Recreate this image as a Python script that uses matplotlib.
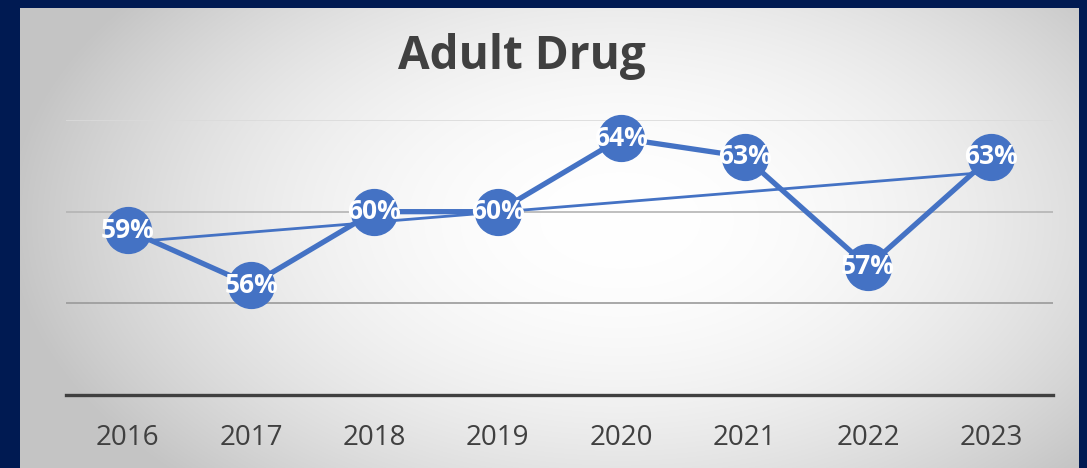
import numpy as np
import matplotlib
matplotlib.use("Agg")
import matplotlib.pyplot as plt

# Adult drug percentages by year
years = ["2016", "2017", "2018", "2019", "2020", "2021", "2022", "2023"]
rates = [59, 56, 60, 60, 64, 63, 57, 63]

W, H = 1087, 468
navy = (0 / 255, 26 / 255, 82 / 255)
blue = "#4472C4"
text_grey = "#404040"

plt.rcParams["font.family"] = ["Open Sans", "DejaVu Sans"]

fig = plt.figure(figsize=(W / 100, H / 100), dpi=100)

# background: navy frame with a radial grey-to-white panel
bg = fig.add_axes([0, 0, 1, 1])
yy, xx = np.mgrid[0:H, 0:W]
d2 = ((xx - 620) / 600.0) ** 2 + ((yy - 220) / 360.0) ** 2
shade = np.clip(1.0 - 0.22 * np.clip(d2, 0, 1.05), 0, 1)
img = np.dstack([shade, shade, shade])
panel = (xx >= 20) & (xx < 1079) & (yy >= 8)
img[~panel] = navy
bg.imshow(img, extent=(0, W, H, 0), aspect="auto", interpolation="bilinear")
bg.set_xlim(0, W)
bg.set_ylim(H, 0)
bg.axis("off")

# chart area
ax = fig.add_axes([66 / W, 73 / H, (1053 - 66) / W, (395 - 120) / H])
ax.patch.set_alpha(0)
x = np.arange(len(years))

for level, col in [(55, "#9a9a9a"), (60, "#b4b4b4"), (65, "#dadada")]:
    ax.axhline(level, color=col, lw=1.2, zorder=1)

ax.plot(x, rates, color=blue, lw=3.8, marker="o", markersize=33,
        markerfacecolor=blue, markeredgecolor=blue, zorder=3, clip_on=False)

# linear trend
k, b = np.polyfit(x, rates, 1)
ax.plot(x, k * x + b, color=blue, lw=2.0, zorder=4)

for xi, v in zip(x, rates):
    ax.text(xi, v, f"{v}%", color="white", fontsize=19, fontweight="bold",
            ha="center", va="center", zorder=5)

ax.set_xlim(-0.5, len(years) - 0.5)
ax.set_ylim(50, 65)
ax.set_xticks(x)
ax.set_xticklabels(years, fontsize=20, color=text_grey)
ax.set_yticks([])
ax.tick_params(axis="x", length=0, pad=21)
for s in ["left", "right", "top"]:
    ax.spines[s].set_visible(False)
ax.spines["bottom"].set_color(text_grey)
ax.spines["bottom"].set_linewidth(2.4)

fig.text(522 / W, 1 - 57 / H, "Adult Drug", fontsize=33, fontweight="bold",
         color=text_grey, ha="center", va="center")

fig.savefig("out.png", dpi=100)
